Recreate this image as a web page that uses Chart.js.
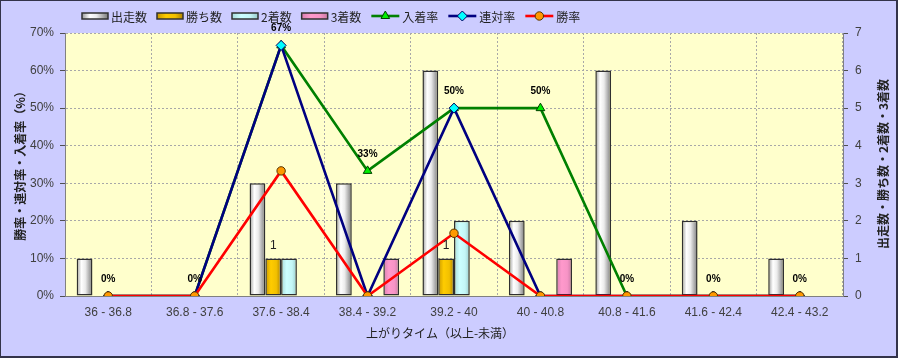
<!DOCTYPE html>
<html>
<head>
<meta charset="utf-8">
<script src="https://cdn.jsdelivr.net/npm/chart.js@4/dist/chart.umd.min.js"></script>
<style>
html,body{margin:0;padding:0;background:#ccccff;}
canvas{display:block;}
</style>
</head>
<body>
<canvas id="c" width="898" height="358"></canvas>
<script>
// ---- data ----
const categories = ['36 - 36.8','36.8 - 37.6','37.6 - 38.4','38.4 - 39.2','39.2 - 40','40 - 40.8','40.8 - 41.6','41.6 - 42.4','42.4 - 43.2'];
const runners  = [1, 0, 3, 3, 6, 2, 6, 2, 1];   // 出走数
const wins     = [0, 0, 1, 0, 1, 0, 0, 0, 0];   // 勝ち数
const seconds  = [0, 0, 1, 0, 2, 0, 0, 0, 0];   // 2着数
const thirds   = [0, 0, 0, 1, 0, 1, 0, 0, 0];   // 3着数
const placeRate    = [0, 0, 66.7, 33.3, 50, 50, 0, 0, 0]; // 入着率
const quinellaRate = [0, 0, 66.7, 0, 50, 0, 0, 0, 0];     // 連対率
const winRate      = [0, 0, 33.3, 0, 16.7, 0, 0, 0, 0];   // 勝率
const seriesNames = ['出走数','勝ち数','2着数','3着数','入着率','連対率','勝率'];
const rateAxis  = {min: 0, max: 70, step: 10};
const countAxis = {min: 0, max: 7, step: 1};
const titles = {x: '上がりタイム（以上-未満）', left: '勝率・連対率・入着率（%）', right: '出走数・勝ち数・2着数・3着数'};

// ---- styles ----
const barGrad = [
  [[0,'#9a9a9a'],[0.3,'#ffffff'],[0.55,'#ececec'],[1,'#7a7a7a']],
  [[0,'#c89800'],[0.35,'#ffcc00'],[0.7,'#f2c000'],[1,'#b08400']],
  [[0,'#a8dada'],[0.35,'#ccffff'],[0.7,'#c4f6f6'],[1,'#98caca']],
  [[0,'#d880b0'],[0.35,'#ff99cc'],[0.7,'#f794c6'],[1,'#c87aa4']]
];
const lineStyles = [
  {color:'#008000', fill:'#00ee00', border:'#004000', style:'triangle', r:5},
  {color:'#000080', fill:'#00ffff', border:'#000060', style:'rectRot', r:5},
  {color:'#ff0000', fill:'#ff9900', border:'#553300', style:'circle', r:4.2}
];

function barDs(i, data){
  return {type:'bar', label: seriesNames[i], data: data, yAxisID:'yCount', order: 3,
    gradStops: barGrad[i], backgroundColor: barGrad[i][1][1], borderColor:'#303030', borderWidth:1.5,
    borderSkipped:false, categoryPercentage:0.73, barPercentage:1.0};
}
function lineDs(i, data, order){
  const s = lineStyles[i];
  return {type:'line', label: seriesNames[4+i], data: data, yAxisID:'yRate', order: order,
    borderColor: s.color, borderWidth: 2.6, pointStyle: s.style, pointRadius: s.r,
    pointBackgroundColor: s.fill, pointBorderColor: s.border, pointBorderWidth: 1,
    tension: 0, fill: false, lineStyleRef: s};
}

const bgPlugin = {
  id: 'bg',
  beforeDraw(chart){
    const {ctx, chartArea: a} = chart;
    ctx.save();
    ctx.fillStyle = '#ccccff';
    ctx.fillRect(0, 0, chart.width, chart.height);
    ctx.fillStyle = '#ffffcc';
    ctx.fillRect(a.left, a.top, a.right - a.left, a.bottom - a.top);
    ctx.restore();
  }
};

const gradPlugin = {
  id: 'grad',
  beforeDatasetsDraw(chart){
    const ctx = chart.ctx;
    chart.data.datasets.forEach((ds, i) => {
      if (!ds.gradStops) return;
      chart.getDatasetMeta(i).data.forEach(el => {
        const g = ctx.createLinearGradient(el.x - el.width/2, 0, el.x + el.width/2, 0);
        ds.gradStops.forEach(s => g.addColorStop(s[0], s[1]));
        el.options = Object.assign({}, el.options, {backgroundColor: g});
      });
    });
  }
};

const labelPlugin = {
  id: 'labels',
  afterDatasetsDraw(chart){
    const ctx = chart.ctx;
    ctx.save();
    ctx.textAlign = 'center';
    ctx.textBaseline = 'middle';
    // 入着率 labels
    const pMeta = chart.getDatasetMeta(4);
    ctx.font = 'bold 10px "Liberation Sans", Arial, sans-serif';
    ctx.fillStyle = '#000';
    pMeta.data.forEach((el, k) => {
      ctx.fillText(Math.round(placeRate[k]) + '%', el.x, el.y - 17);
    });
    // 勝ち数 labels
    const wMeta = chart.getDatasetMeta(1);
    ctx.font = '12px "Liberation Sans", Arial, sans-serif';
    ctx.fillStyle = '#222';
    wMeta.data.forEach((el, k) => {
      if (wins[k] > 0) ctx.fillText(String(wins[k]), el.x, el.y - 13);
    });
    ctx.restore();
  }
};

function drawMarker(ctx, style, x, y, r, fill, border){
  ctx.beginPath();
  if (style === 'circle') {
    ctx.arc(x, y, r, 0, Math.PI*2);
  } else if (style === 'triangle') {
    ctx.moveTo(x, y - r);
    ctx.lineTo(x + r*0.866, y + r*0.5);
    ctx.lineTo(x - r*0.866, y + r*0.5);
    ctx.closePath();
  } else {
    ctx.moveTo(x, y - r); ctx.lineTo(x + r, y); ctx.lineTo(x, y + r); ctx.lineTo(x - r, y); ctx.closePath();
  }
  ctx.fillStyle = fill; ctx.fill();
  ctx.lineWidth = 1; ctx.strokeStyle = border; ctx.stroke();
}

const decorPlugin = {
  id: 'decor',
  afterDraw(chart){
    const ctx = chart.ctx;
    ctx.save();
    // legend
    ctx.font = '12px "Noto Sans CJK JP", sans-serif';
    ctx.textBaseline = 'middle';
    ctx.textAlign = 'left';
    let x = 82; const ly = 16;
    chart.data.datasets.forEach((ds, i) => {
      if (ds.type === 'bar') {
        const g = ctx.createLinearGradient(0, ly - 3, 0, ly + 3);
        const stops = ds.gradStops;
        g.addColorStop(0, stops[0][1]); g.addColorStop(0.4, stops[1][1]); g.addColorStop(1, stops[3][1]);
        const g2 = ctx.createLinearGradient(x, 0, x + 26, 0);
        stops.forEach(s => g2.addColorStop(s[0], s[1]));
        ctx.fillStyle = g2;
        ctx.fillRect(x, ly - 3, 26, 6);
        ctx.lineWidth = 1.5; ctx.strokeStyle = '#303030';
        ctx.strokeRect(x, ly - 3, 26, 6);
        x += 29;
      } else {
        const s = ds.lineStyleRef;
        ctx.beginPath(); ctx.moveTo(x, ly); ctx.lineTo(x + 28, ly);
        ctx.lineWidth = 2.6; ctx.strokeStyle = s.color; ctx.stroke();
        drawMarker(ctx, s.style, x + 14, ly, s.r, s.fill, s.border);
        x += 31;
      }
      ctx.fillStyle = '#222';
      ctx.fillText(ds.label, x, ly + 1);
      x += ctx.measureText(ds.label).width + 10;
    });
    // axis titles
    ctx.fillStyle = '#222';
    ctx.textAlign = 'center';
    ctx.font = '12px "Noto Sans CJK JP", sans-serif';
    ctx.fillText(titles.x, 440, 333);
    ctx.font = 'bold 12px "Noto Sans CJK JP", sans-serif';
    ctx.save(); ctx.translate(20, 163); ctx.rotate(-Math.PI/2); ctx.fillText(titles.left, 0, 0); ctx.restore();
    ctx.save(); ctx.translate(883, 164); ctx.rotate(-Math.PI/2); ctx.fillText(titles.right, 0, 0); ctx.restore();
    // frame
    ctx.fillStyle = '#33334a';
    ctx.fillRect(0, 0, chart.width, 1);
    ctx.fillRect(0, 0, 1, chart.height);
    ctx.fillRect(chart.width - 2, 0, 2, chart.height);
    ctx.fillRect(0, chart.height - 2, chart.width, 2);
    ctx.restore();
  }
};

const tickFont = {family: '"Liberation Sans", Arial, sans-serif', size: 12};

new Chart(document.getElementById('c'), {
  type: 'bar',
  data: {
    labels: categories,
    datasets: [
      barDs(0, runners), barDs(1, wins), barDs(2, seconds), barDs(3, thirds),
      lineDs(0, placeRate, 2), lineDs(1, quinellaRate, 1), lineDs(2, winRate, 0)
    ]
  },
  options: {
    responsive: false,
    animation: false,
    devicePixelRatio: 1,
    layout: {padding: {top: 33, left: 0, right: 0, bottom: 0}},
    plugins: {legend: {display: false}, tooltip: {enabled: false}, title: {display: false}},
    scales: {
      x: {
        offset: true,
        grid: {offset: true, color: '#a8a8a8', drawTicks: false, lineWidth: 1},
        border: {display: true, color: '#808080', width: 1, dash: [2, 2]},
        ticks: {font: tickFont, color: '#404040', padding: 9, maxRotation: 0, autoSkip: false},
        afterFit(s){ s.height = 62; }
      },
      yRate: {
        position: 'left', min: rateAxis.min, max: rateAxis.max,
        grid: {color: '#a8a8a8', drawTicks: true, tickLength: 5, tickColor: '#505050', lineWidth: 1},
        border: {display: true, color: '#808080', width: 1, dash: [2, 2]},
        ticks: {stepSize: rateAxis.step, font: tickFont, color: '#404040', padding: 6, callback: v => v + '%'},
        afterFit(s){ s.width = 65; }
      },
      yCount: {
        position: 'right', min: countAxis.min, max: countAxis.max,
        grid: {drawOnChartArea: false, drawTicks: true, tickLength: 5, tickColor: '#505050'},
        border: {display: true, color: '#808080', width: 1},
        ticks: {stepSize: countAxis.step, font: tickFont, color: '#404040', padding: 7},
        afterFit(s){ s.width = 55; }
      }
    }
  },
  plugins: [bgPlugin, gradPlugin, labelPlugin, decorPlugin]
});
</script>
</body>
</html>
